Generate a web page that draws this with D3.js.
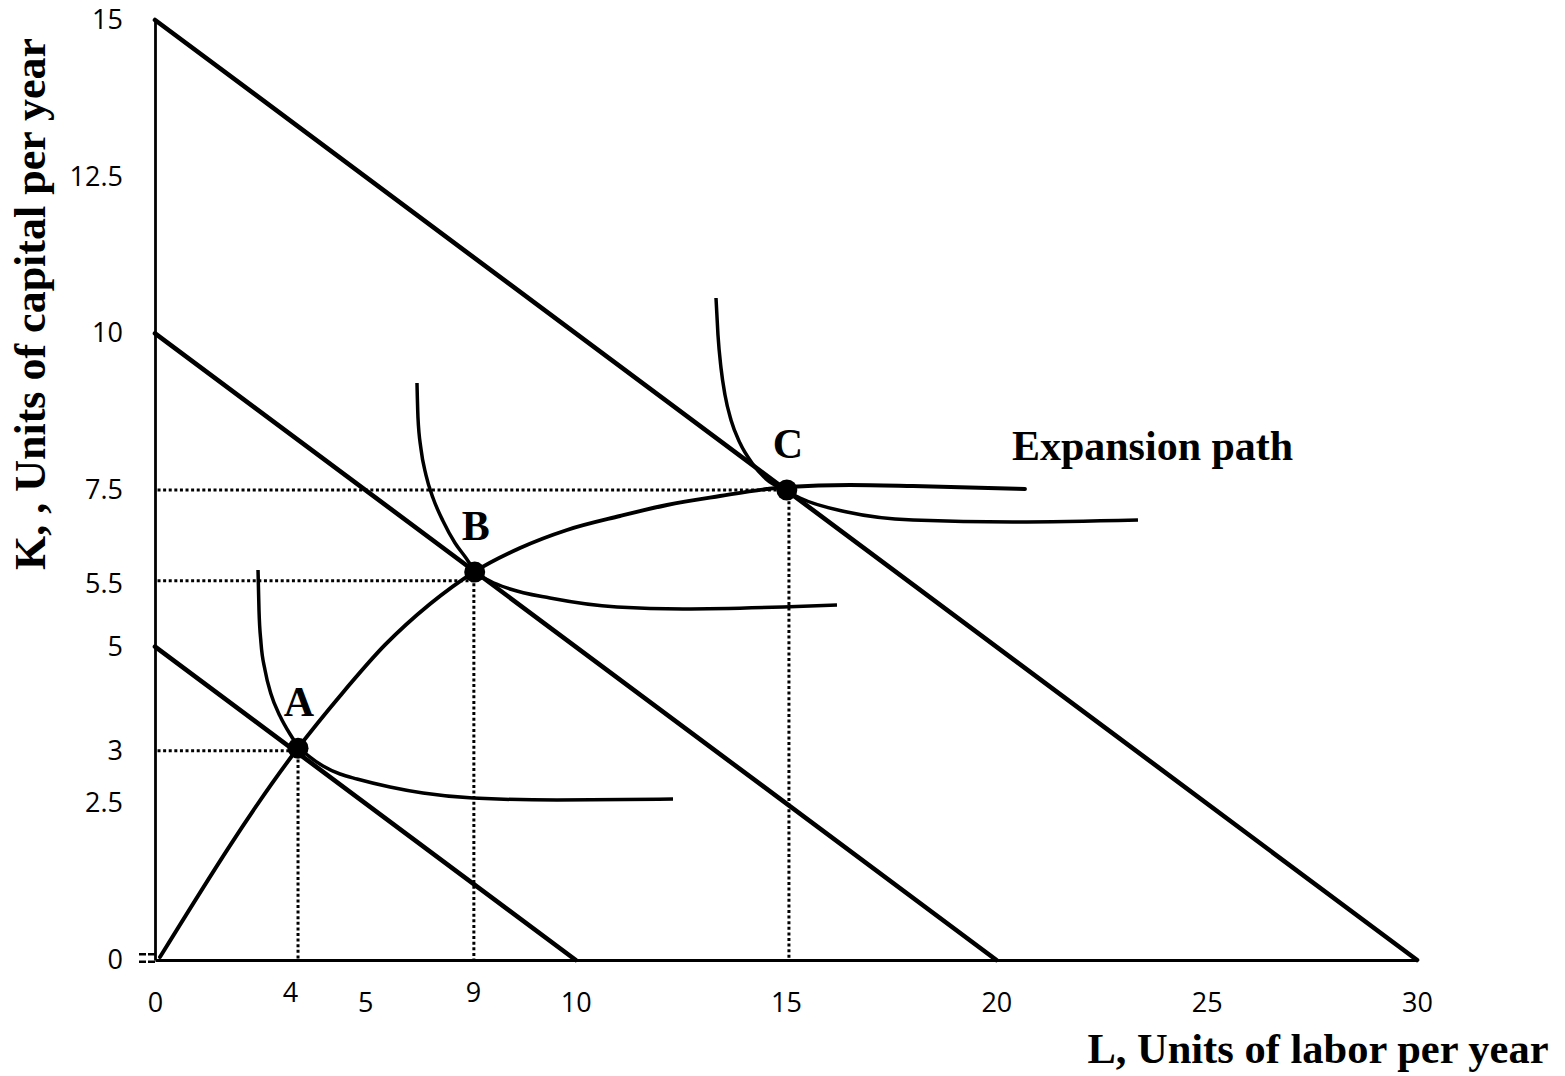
<!DOCTYPE html>
<html><head><meta charset="utf-8">
<script src="https://cdn.jsdelivr.net/npm/d3@7"></script>
<style>body{margin:0;background:#fff}</style>
</head><body>
<svg id="chart" width="1565" height="1076"></svg>
<script>
// ---- data ----
const xTickValues = [0, 5, 10, 15, 20, 25, 30];
const xTickLabels = ["0", "5", "10", "15", "20", "25", "30"];
const xExtraTickValues = [3.21, 7.56];
const xExtraTickLabels = ["4", "9"];
const yTickValues = [0, 2.5, 3.34, 5, 6.0, 7.5, 10, 12.5, 15];
const yTickLabels = ["0", "2.5", "3", "5", "5.5", "7.5", "10", "12.5", "15"];

const isocostK = [5, 10, 15];      // capital intercepts
const isocostL = [10, 20, 30];     // labor intercepts

const isoquant1 = [[2.449,6.223],[2.472,5.585],[2.520,5.058],[2.615,4.628],[2.757,4.245],[2.971,3.894],[3.209,3.606],[3.399,3.415],[3.685,3.239],[3.994,3.096],[4.398,2.968],[4.802,2.888],[5.586,2.761],[6.371,2.665],[7.559,2.585],[9.556,2.553],[12.314,2.569]];
const isoquant2 = [[6.228,9.207],[6.252,8.649],[6.323,8.154],[6.442,7.739],[6.609,7.372],[6.846,7.005],[7.132,6.654],[7.393,6.415],[7.607,6.207],[7.963,6.048],[8.439,5.920],[9.390,5.777],[10.983,5.633],[12.551,5.601],[14.929,5.633],[16.212,5.665]];
const isoquant3 = [[13.336,10.564],[13.383,9.973],[13.455,9.447],[13.550,9.016],[13.692,8.617],[13.906,8.250],[14.191,7.931],[14.524,7.676],[15.024,7.484],[15.333,7.372],[16.450,7.149],[18.019,7.021],[20.396,6.989],[23.367,7.021]];
const expansionPath = [[0.119,0.048],[3.399,3.382],[4.398,4.213],[5.467,5.027],[6.537,5.681],[7.583,6.191],[8.677,6.574],[9.794,6.862],[11.054,7.085],[12.171,7.261],[13.431,7.404],[14.548,7.516],[15.024,7.548],[16.521,7.580],[18.019,7.564],[20.681,7.516]];

const pointNames = ["A", "B", "C"];
const pointL = [3.40, 7.60, 15.02];
const pointK = [3.38, 6.19, 7.50];
const guideL = [3.40, 7.58, 15.07];
const guideK = [3.34, 6.05, 7.50];

// ---- layout ----
const svg = d3.select("#chart");
const x = d3.scaleLinear().domain([0, 30]).range([155, 1417]);
const y = d3.scaleLinear().domain([0, 15]).range([960, 20]);
const tickFont = "'Open Sans', sans-serif";
const serif = "'Liberation Serif', 'Times New Roman', serif";

// axes
const xAxis = d3.axisBottom(x).tickValues(xTickValues)
  .tickFormat((d, i) => xTickLabels[i]).tickSize(0).tickSizeOuter(0).tickPadding(33);
const gx = svg.append("g").attr("transform", `translate(0,${y(0)})`).call(xAxis);
const xAxis2 = d3.axisBottom(x).tickValues(xExtraTickValues)
  .tickFormat((d, i) => xExtraTickLabels[i]).tickSize(0).tickSizeOuter(0).tickPadding(23);
const gx2 = svg.append("g").attr("transform", `translate(0,${y(0)})`).call(xAxis2);
gx2.select(".domain").remove();

const yAxis = d3.axisLeft(y).tickValues(yTickValues)
  .tickFormat((d, i) => yTickLabels[i]).tickSize(0).tickSizeOuter(0).tickPadding(32);
const gy = svg.append("g").attr("transform", `translate(${x(0)},0)`).call(yAxis);

[gx, gx2, gy].forEach(g => {
  g.selectAll("text").attr("font-family", tickFont).attr("font-size", 27).attr("fill", "#000");
  g.select(".domain").attr("stroke", "#000").attr("stroke-width", 2.8);
});

// small stray tick marks near origin
const yMini = d3.axisLeft(y).tickValues([0.1, -0.02]).tickFormat("").tickSize(17).tickSizeOuter(0);
const gm = svg.append("g").attr("transform", `translate(${x(0)},0)`).call(yMini);
gm.select(".domain").remove();
gm.selectAll("line").attr("stroke", "#000").attr("stroke-width", 2.5).attr("stroke-dasharray", "7,2");

// dotted guides
const dots = svg.append("g").attr("stroke", "#000").attr("stroke-width", 3).attr("stroke-dasharray", "3,2.6");
guideK.forEach((k, i) => {
  dots.append("line").attr("x1", x(0.06)).attr("x2", x(guideL[i])).attr("y1", y(k)).attr("y2", y(k));
});
guideL.forEach((l, i) => {
  dots.append("line").attr("x1", x(l)).attr("x2", x(l)).attr("y1", y(pointK[i])).attr("y2", y(0));
});

// isocost lines
svg.append("g").selectAll("line").data(isocostK).join("line")
  .attr("x1", x(0)).attr("y1", d => y(d))
  .attr("x2", (d, i) => x(isocostL[i])).attr("y2", y(0))
  .attr("stroke", "#000").attr("stroke-width", 4.6).attr("stroke-linecap", "round");

// curves
const line = d3.line().x(d => x(d[0])).y(d => y(d[1])).curve(d3.curveMonotoneX);
[isoquant1, isoquant2, isoquant3].forEach(q => {
  svg.append("path").attr("d", line(q)).attr("fill", "none").attr("stroke", "#000").attr("stroke-width", 3.5);
});
svg.append("path").attr("d", line(expansionPath)).attr("fill", "none")
  .attr("stroke", "#000").attr("stroke-width", 3.9).attr("stroke-linecap", "round");

// points
svg.append("g").selectAll("circle").data(pointNames).join("circle")
  .attr("cx", (d, i) => x(pointL[i])).attr("cy", (d, i) => y(pointK[i])).attr("r", 10.5).attr("fill", "#000");
svg.append("g").selectAll("text").data(pointNames).join("text")
  .attr("x", (d, i) => x(pointL[i]) + 1).attr("y", (d, i) => y(pointK[i]) - 32)
  .attr("text-anchor", "middle").attr("font-family", serif).attr("font-weight", "bold")
  .attr("font-size", 42).text(d => d);

// labels
svg.append("text").attr("x", x(20.37)).attr("y", y(7.98))
  .attr("font-family", serif).attr("font-weight", "bold").attr("font-size", 42).text("Expansion path");
svg.append("text").attr("x", 1318).attr("y", 1063).attr("text-anchor", "middle")
  .attr("font-family", serif).attr("font-weight", "bold").attr("font-size", 42.5).text("L, Units of  labor per year");
svg.append("text").attr("transform", "translate(45,304) rotate(-90)").attr("text-anchor", "middle")
  .attr("font-family", serif).attr("font-weight", "bold").attr("font-size", 44).text("K, , Units of  capital per year");
</script>
</body></html>
